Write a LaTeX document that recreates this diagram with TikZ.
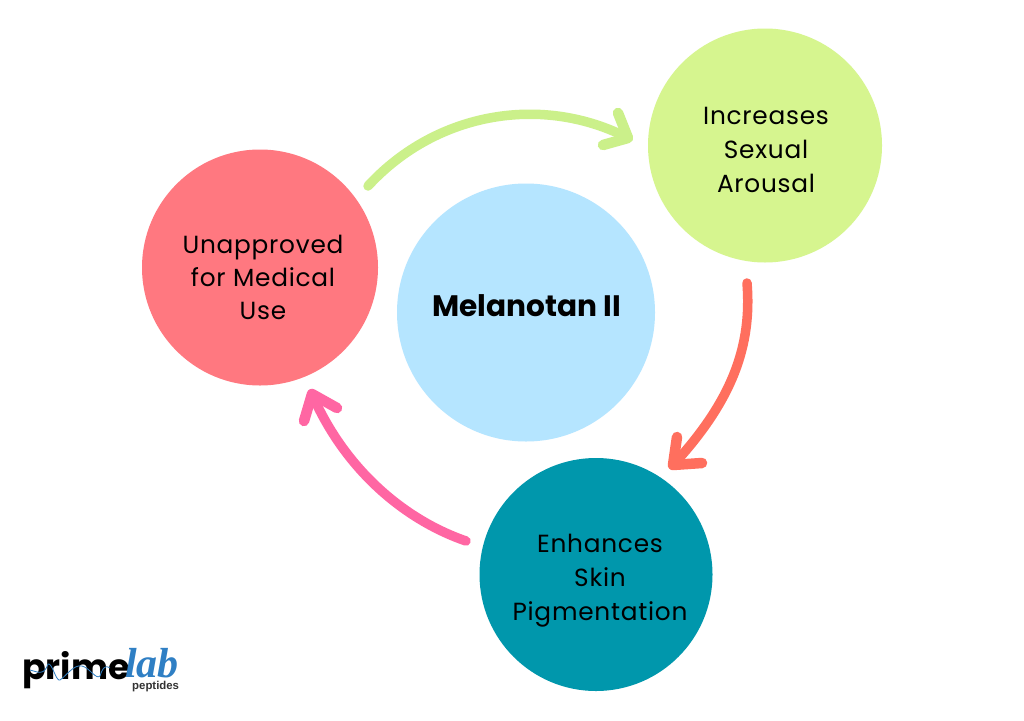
\documentclass[tikz,border=0pt]{standalone}
\usepackage{fontspec}
\setmainfont{Poppins}
\newfontfamily\logoserif{Liberation Serif}
\newfontfamily\logosans{Liberation Sans}
\definecolor{cred}{HTML}{FF7880}
\definecolor{cgreen}{HTML}{D6F58F}
\definecolor{cblue}{HTML}{B5E5FF}
\definecolor{cteal}{HTML}{0097AC}
\definecolor{agreen}{HTML}{CBF08A}
\definecolor{aorange}{HTML}{FF6F5E}
\definecolor{apink}{HTML}{FF66A3}
\definecolor{lblue}{HTML}{2F7FC4}
\tikzset{
  disc/.style={circle,inner sep=0pt},
  caption/.style={inner sep=0pt,align=center,font=\fontsize{24.8}{34}\selectfont\addfontfeatures{LetterSpace=3}},
  arc line/.style={line width=9.5pt,line cap=round,line join=round},
  arc head/.style={line width=10.5pt,line cap=round,line join=round}
}
\begin{document}
\begin{tikzpicture}[x=1pt,y=-1pt]
\useasboundingbox[fill=white] (0,0) rectangle (1024,720);
\node[disc,fill=cred,minimum size=236pt] (unapp) at (260,267.5) {};
\node[disc,fill=cgreen,minimum size=234pt] (incr) at (765,145.5) {};
\node[disc,fill=cblue,minimum size=258pt] (mel) at (526,312.5) {};
\node[disc,fill=cteal,minimum size=233pt] (enh) at (596,574.5) {};
\node[caption,font=\fontsize{24.8}{33}\selectfont\addfontfeatures{LetterSpace=3}] (unapptxt) at (263,277) {Unapproved\\for Medical\\Use};
\node[caption] (incrtxt) at (766,150) {Increases\\Sexual\\Arousal};
\node[caption,font=\fontsize{29.6}{32}\selectfont\bfseries] (meltxt) at (527,306) {Melanotan II};
\node[caption] (enhtxt) at (600,581) {Enhances\\Skin\\Pigmentation};
\coordinate (a1s) at (368,186);
\coordinate (a1e) at (628,138);
\coordinate (a1b) at (618,113);
\coordinate (a1c) at (603,145);
\coordinate (a2s) at (747,283);
\coordinate (a2e) at (673,465);
\coordinate (a2b) at (702,463);
\coordinate (a2c) at (677,437);
\coordinate (a3s) at (466,541);
\coordinate (a3e) at (312,394);
\coordinate (a3b) at (337,408);
\coordinate (a3c) at (304,421);
\draw[arc line,agreen] (a1s) .. controls (438,110) and (545,95) .. (a1e);
\draw[arc head,agreen] (a1b) -- (a1e) -- (a1c);
\draw[arc line,aorange] (a2s) .. controls (752,345) and (733,400) .. (a2e);
\draw[arc head,aorange] (a2b) -- (a2e) -- (a2c);
\draw[arc line,apink] (a3s) .. controls (405,520) and (345,470) .. (a3e);
\draw[arc head,apink] (a3b) -- (a3e) -- (a3c);
% logo
\node[anchor=base west,inner sep=0pt,font=\fontsize{35}{35}\selectfont\bfseries] (prime) at (22,679) {prime};
\draw[lblue,line width=0.8pt] (30,670) .. controls (38,672) and (44,676) .. (48,664) .. controls (52,662) and (56,682) .. (60,680) .. controls (66,676) and (74,664) .. (82,666) .. controls (90,668) and (96,680) .. (100,676) .. controls (102,670) and (104,664) .. (110,668);
\node[anchor=base west,inner sep=0pt,text depth=0pt,text=lblue,font=\fontsize{42}{42}\selectfont\bfseries\itshape\logoserif] (lab) at (125,677) {lab};
\node[anchor=base west,inner sep=0pt,font=\fontsize{11.4}{11}\selectfont\bfseries\logosans,text=black!80] (pep) at (132,689.5) {peptides};
\end{tikzpicture}
\end{document}
